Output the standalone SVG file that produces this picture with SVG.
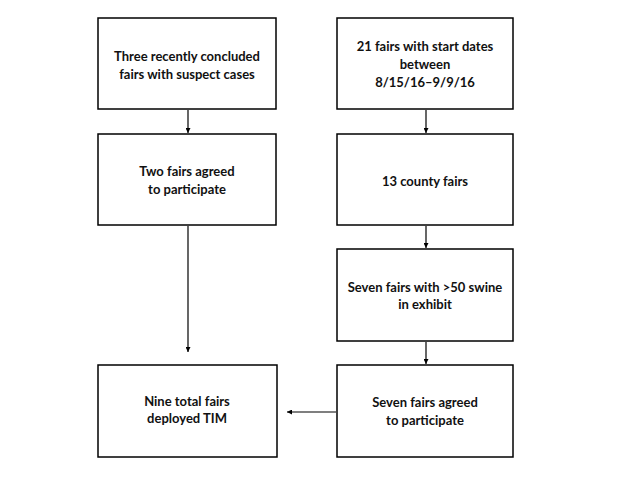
<svg xmlns="http://www.w3.org/2000/svg" width="640" height="480" viewBox="0 0 640 480">
<style>
.box{fill:#fff;stroke:#000;stroke-width:1.5}
.t{font-family:Lato,"Liberation Sans",sans-serif;font-weight:bold;font-size:13px;fill:#111;text-anchor:middle}
.c{stroke:#000;stroke-width:1.2;fill:none;marker-end:url(#ah)}
</style>
<defs>
<marker id="ah" viewBox="0 0 10 10" refX="10" refY="5" markerWidth="5" markerHeight="5" orient="auto" markerUnits="userSpaceOnUse">
<path d="M0,0L10,5L0,10z" fill="#000"/>
</marker>
</defs>
<rect width="640" height="480" fill="#fff"/>
<g id="connectors">
<line class="c" x1="188" y1="110" x2="188" y2="133"/>
<line class="c" x1="426" y1="110" x2="426" y2="133"/>
<line class="c" x1="426" y1="226" x2="426" y2="248"/>
<line class="c" x1="426" y1="342" x2="426" y2="364"/>
<line class="c" x1="188" y1="226" x2="188" y2="352"/>
<line class="c" x1="336" y1="412" x2="287" y2="412"/>
</g>
<g id="n1"><rect class="box" x="98" y="18" width="178" height="91"/>
<text class="t" x="187" y="61">Three recently concluded</text><text class="t" x="187" y="79">fairs with suspect cases</text></g>
<g id="n2"><rect class="box" x="98" y="134" width="178" height="91"/>
<text class="t" x="187" y="176">Two fairs agreed</text><text class="t" x="187" y="194">to participate</text></g>
<g id="n3"><rect class="box" x="98" y="365" width="179" height="92"/>
<text class="t" x="187" y="406">Nine total fairs</text><text class="t" x="187" y="423">deployed TIM</text></g>
<g id="n4"><rect class="box" x="337" y="18" width="176" height="91"/>
<text class="t" x="425" y="51">21 fairs with start dates</text><text class="t" x="425" y="69">between</text><text class="t" x="425" y="87">8/15/16–9/9/16</text></g>
<g id="n5"><rect class="box" x="337" y="134" width="176" height="91"/>
<text class="t" x="425" y="186">13 county fairs</text></g>
<g id="n6"><rect class="box" x="337" y="249" width="176" height="92"/>
<text class="t" x="425" y="292">Seven fairs with &gt;50 swine</text><text class="t" x="425" y="309">in exhibit</text></g>
<g id="n7"><rect class="box" x="337" y="365" width="176" height="92"/>
<text class="t" x="425" y="407">Seven fairs agreed</text><text class="t" x="425" y="425">to participate</text></g>
</svg>
